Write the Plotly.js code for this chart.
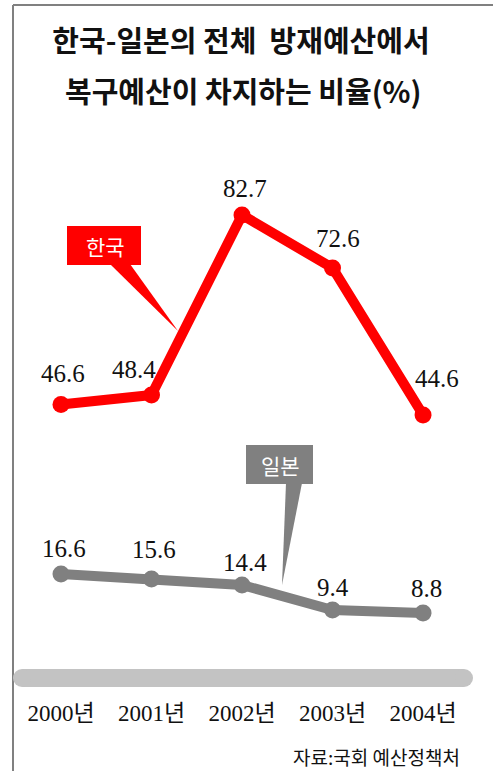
<!DOCTYPE html>
<html>
<head>
<meta charset="utf-8">
<script src="https://cdn.plot.ly/plotly-3.0.1.min.js"></script>
<style>html,body{margin:0;padding:0;background:#fff;}#chart{width:493px;height:771px;}</style>
</head>
<body>
<div id="chart"></div>
<script>
// ---- data ----
const years = ['2000년', '2001년', '2002년', '2003년', '2004년'];
const korea = [46.6, 48.4, 82.7, 72.6, 44.6];
const japan = [16.6, 15.6, 14.4, 9.4, 8.8];
const seriesNames = ['한국', '일본'];
const titleLines = ['한국-일본의 전체  방재예산에서', '복구예산이 차지하는 비율(%)'];
const sourceText = '자료:국회 예산정책처';

// ---- styling (label nudges, pixels) ----
const koreaLabelDx = [2, -18, 3, 5, 14];
const koreaLabelDy = [31, 26, 26, 30, 36];
const japanLabelDx = [3, 2, 3, 0, 3];
const japanLabelDy = [26, 30, 23, 23, 25];

// ---- layout helpers (pixel -> paper) ----
const W = 493, H = 771, MB = 93, PH = H - MB;
const px = x => x / W;
const py = y => 1 - y / PH;

const RED = '#ff0000', GRAY = '#808080', BAR = '#c3c3c3';
const serif = 'Liberation Serif, DejaVu Serif, Noto Sans CJK KR, serif';
const sans = 'Noto Sans CJK KR, Noto Sans, sans-serif';

const traces = [
  {
    x: years, y: korea, name: seriesNames[0], yaxis: 'y',
    type: 'scatter', mode: 'lines+markers',
    line: {color: RED, width: 10},
    marker: {color: RED, size: 17},
    cliponaxis: false, hoverinfo: 'skip'
  },
  {
    x: years, y: japan, name: seriesNames[1], yaxis: 'y2',
    type: 'scatter', mode: 'lines+markers',
    line: {color: GRAY, width: 10},
    marker: {color: GRAY, size: 17},
    cliponaxis: false, hoverinfo: 'skip'
  }
];

function tri(x1, x2, yTop, tx, ty) {
  return 'M' + px(x1) + ',' + py(yTop) + ' L' + px(x2) + ',' + py(yTop) + ' L' + px(tx) + ',' + py(ty) + ' Z';
}

const shapes = [
  // frame
  {type: 'line', xref: 'paper', yref: 'paper', x0: px(13), x1: px(13), y0: py(5), y1: py(771), line: {color: GRAY, width: 2}},
  {type: 'line', xref: 'paper', yref: 'paper', x0: px(13), x1: px(493), y0: py(5), y1: py(5), line: {color: GRAY, width: 2}},
  // axis bar
  {type: 'line', xref: 'paper', yref: 'paper', x0: px(22), x1: px(464), y0: py(678), y1: py(678), line: {color: BAR, width: 18}},
  {type: 'circle', xref: 'paper', yref: 'paper', x0: px(13), x1: px(31), y0: py(669), y1: py(687), fillcolor: BAR, line: {width: 0}},
  {type: 'circle', xref: 'paper', yref: 'paper', x0: px(455), x1: px(473), y0: py(669), y1: py(687), fillcolor: BAR, line: {width: 0}},
  // Korea callout
  {type: 'rect', xref: 'paper', yref: 'paper', x0: px(67), x1: px(141), y0: py(226), y1: py(265), fillcolor: RED, line: {width: 0}},
  {type: 'path', xref: 'paper', yref: 'paper', path: tri(110, 130, 264, 178, 331), fillcolor: RED, line: {width: 0}},
  // Japan callout
  {type: 'rect', xref: 'paper', yref: 'paper', x0: px(246), x1: px(313), y0: py(445), y1: py(484), fillcolor: GRAY, line: {width: 0}},
  {type: 'path', xref: 'paper', yref: 'paper', path: tri(286, 302, 483, 282, 585), fillcolor: GRAY, line: {width: 0}}
];

function valueLabels(vals, yref, dxs, dys) {
  return vals.map((v, i) => ({
    x: years[i], y: v, xref: 'x', yref: yref, text: v.toFixed(1), showarrow: false,
    xanchor: 'center', yanchor: 'middle', xshift: dxs[i], yshift: dys[i],
    font: {family: serif, size: 25, color: '#111'}
  }));
}

const annotations = [
  {xref: 'paper', yref: 'paper', x: px(243), y: py(90), text: '<b>' + titleLines[1] + '</b>', showarrow: false,
   xanchor: 'center', yanchor: 'middle', font: {family: sans, size: 29, color: '#111'}},
  {xref: 'paper', yref: 'paper', x: px(105), y: py(246), text: seriesNames[0], showarrow: false,
   xanchor: 'center', yanchor: 'middle', font: {family: sans, size: 21, color: '#fff'}},
  {xref: 'paper', yref: 'paper', x: px(280), y: py(465), text: seriesNames[1], showarrow: false,
   xanchor: 'center', yanchor: 'middle', font: {family: sans, size: 21, color: '#fff'}},
  {xref: 'paper', yref: 'paper', x: px(462), y: py(756), text: sourceText, showarrow: false,
   xanchor: 'right', yanchor: 'middle', font: {family: sans, size: 19, color: '#111'}}
].concat(valueLabels(korea, 'y', koreaLabelDx, koreaLabelDy),
         valueLabels(japan, 'y2', japanLabelDx, japanLabelDy));

const layout = {
  width: W, height: H,
  margin: {l: 0, r: 0, t: 0, b: MB, pad: 0},
  paper_bgcolor: '#fff', plot_bgcolor: '#fff',
  showlegend: false,
  title: {text: '<b>' + titleLines[0] + '</b>', x: px(241), xanchor: 'center', xref: 'paper',
          y: 1 - 42 / H, yanchor: 'middle', yref: 'container',
          font: {family: sans, size: 29, color: '#111'}},
  xaxis: {type: 'category', range: [-0.674, 4.773], showgrid: false, zeroline: false, showline: false,
          ticks: '', ticklabelstandoff: 19, tickfont: {family: serif, size: 23, color: '#111'}, fixedrange: true},
  yaxis: {range: [-5.5, 123.65], visible: false, showgrid: false, zeroline: false, fixedrange: true},
  yaxis2: {range: [-4.2, 131.4], overlaying: 'y', visible: false, showgrid: false, zeroline: false, fixedrange: true},
  shapes: shapes,
  annotations: annotations
};

Plotly.newPlot('chart', traces, layout, {displayModeBar: false, staticPlot: true});
</script>
</body>
</html>
